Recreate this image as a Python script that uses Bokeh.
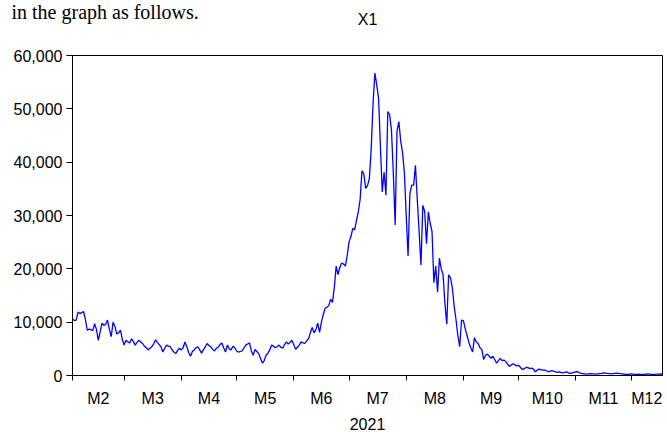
import pandas as pd
from bokeh.plotting import figure
from bokeh.models import Range1d, FixedTicker, NumeralTickFormatter, Label
from bokeh.embed import file_html
from bokeh.resources import INLINE

# ---- data (daily, 2021-02-01 .. 2021-12-18) ----
start_date = "2021-02-01"
x1_values = [
    10600, 10300, 10400, 11900, 11600, 11800, 12000, 10500, 8500, 8700,
    8600, 8400, 9700, 8600, 6600, 8200, 9800, 9400, 9600, 10400,
    8600, 7300, 10000, 9200, 7800, 8000, 8500, 6800, 5700, 6600,
    6300, 6100, 6900, 6400, 5700, 6200, 6600, 6300, 6000, 5500,
    5200, 4800, 5100, 5400, 5900, 6700, 6200, 5800, 5400, 4400,
    5100, 5700, 5500, 5400, 4800, 4400, 4100, 4700, 5100, 4800,
    5200, 6300, 5400, 4300, 3600, 4500, 4800, 5200, 5400, 4800,
    4200, 4800, 5400, 6000, 5600, 5400, 4900, 4600, 5100, 5300,
    5800, 6100, 5200, 4400, 5700, 5000, 4800, 5500, 5200, 4600,
    4400, 4500, 4600, 5200, 5700, 5900, 6100, 4600, 3800, 4900,
    4500, 4100, 3200, 2300, 2800, 3800, 4200, 4800, 5700, 5500,
    5200, 5400, 5700, 5300, 5100, 5800, 6300, 5900, 6200, 6600,
    5800, 4900, 5300, 5700, 6300, 6100, 6000, 6500, 6900, 8000,
    9000, 8000, 8600, 9800, 8100, 10000, 11400, 12600, 12800, 13100,
    14300, 13700, 16500, 20500, 18900, 20300, 21100, 20900, 20500, 22500,
    25100, 26000, 27600, 27300, 29000, 30700, 33000, 38400, 37800, 35100,
    35600, 36900, 42400, 51000, 56700, 54500, 52000, 43000, 34400, 38100,
    33800, 49500, 48900, 46000, 38000, 28200, 45800, 47600, 44000, 41800,
    38100, 30000, 22400, 34100, 35700, 35700, 39400, 33000, 27000, 20700,
    31900, 30800, 24700, 30700, 28500, 27000, 17400, 20500, 15600, 22000,
    20000, 18900, 13400, 9600, 18900, 18300, 16500, 13000, 10500, 7500,
    5400, 10400, 10300, 8800, 7500, 6200, 5200, 4400, 7100, 6300,
    6000, 5200, 4900, 3000, 3800, 4000, 3600, 3200, 3600, 3000,
    2300, 2800, 3200, 2800, 2900, 2600, 2100, 1700, 2000, 2200,
    2000, 1800, 1900, 1500, 1100, 1300, 1500, 1500, 1300, 1400,
    1200, 700, 1000, 1200, 1100, 1000, 1000, 900, 700, 800,
    900, 800, 700, 600, 700, 600, 500, 600, 700, 500,
    400, 500, 600, 700, 700, 500, 400, 300, 300, 250,
    300, 350, 300, 300, 250, 300, 350, 400, 500, 450,
    400, 350, 300, 350, 400, 450, 400, 350, 300, 250,
    200, 200, 250, 300, 250, 200, 200, 250, 200, 200,
    200, 250, 300, 250, 200, 200, 200, 250, 250, 300,
    250,
]
month_labels = ["M2", "M3", "M4", "M5", "M6", "M7", "M8", "M9", "M10", "M11", "M12"]
month_starts = ["2021-02-01", "2021-03-01", "2021-04-01", "2021-05-01", "2021-06-01",
                "2021-07-01", "2021-08-01", "2021-09-01", "2021-10-01", "2021-11-01",
                "2021-12-01"]
y_ticks = [0, 10000, 20000, 30000, 40000, 50000, 60000]
title_text = "X1"
year_label = "2021"
top_text = "in the graph as follows."

# ---- derived positions (day index from start) ----
t0 = pd.Timestamp(start_date)
n = len(x1_values)
xs = list(range(n))
last = n - 1
bounds = [(pd.Timestamp(m) - t0).days for m in month_starts]
ends = bounds[1:] + [last]
mids = [(a + b) / 2 for a, b in zip(bounds, ends)]

FONT = "Liberation Sans"
W, H = 667, 432
BL, BR, BT, BB = 72, 5, 55, 53

p = figure(width=W, height=H, output_backend="svg", toolbar_location=None,
           x_range=Range1d(0, last), y_range=Range1d(0, 60000),
           min_border_left=BL, min_border_right=BR, min_border_top=BT, min_border_bottom=BB)
p.background_fill_color = "white"
p.border_fill_color = "white"
p.outline_line_color = "black"
p.outline_line_width = 1
p.xgrid.visible = False
p.ygrid.visible = False

p.line(xs, x1_values, line_color="#0000FF", line_width=1.3)

# y axis
ya = p.yaxis[0]
ya.ticker = FixedTicker(ticks=y_ticks, minor_ticks=[])
ya.formatter = NumeralTickFormatter(format="0,0")
ya.major_tick_out = 6
ya.major_tick_in = 0
ya.minor_tick_out = 0
ya.minor_tick_in = 0
ya.major_label_standoff = 4
ya.major_label_text_font = FONT
ya.major_label_text_font_size = "16px"
ya.major_label_text_color = "black"
ya.axis_line_color = "black"
ya.major_tick_line_color = "black"

# x axis: ticks at month starts (minor), labels at month centres (major, no tick)
xa = p.xaxis[0]
xa.ticker = FixedTicker(ticks=mids, minor_ticks=bounds)
xa.major_label_overrides = {m: lab for m, lab in zip(mids, month_labels)}
xa.major_tick_out = 0
xa.major_tick_in = 0
xa.minor_tick_out = 5
xa.minor_tick_in = 0
xa.minor_tick_line_color = "black"
xa.major_label_standoff = 9
xa.major_label_text_font = FONT
xa.major_label_text_font_size = "16px"
xa.major_label_text_color = "black"
xa.axis_line_color = "black"
xa.axis_label = year_label
xa.axis_label_text_font = FONT
xa.axis_label_text_font_size = "16px"
xa.axis_label_text_font_style = "normal"
xa.axis_label_text_color = "black"
xa.axis_label_standoff = 8

# chart title
p.title.text = title_text
p.title.align = "center"
p.title.text_font = FONT
p.title.text_font_size = "16px"
p.title.text_font_style = "normal"
p.title.text_color = "black"
p.title.standoff = 12

# sentence from the page above the chart (in the top side panel, so not clipped)
p.add_layout(Label(x=11 - BL, y=44, x_units="screen", y_units="screen",
                   text=top_text, text_font="Liberation Serif", text_font_size="20px",
                   text_baseline="alphabetic", text_align="left", text_color="black"),
             "above")

open("out.html", "w").write(file_html(p, INLINE))
